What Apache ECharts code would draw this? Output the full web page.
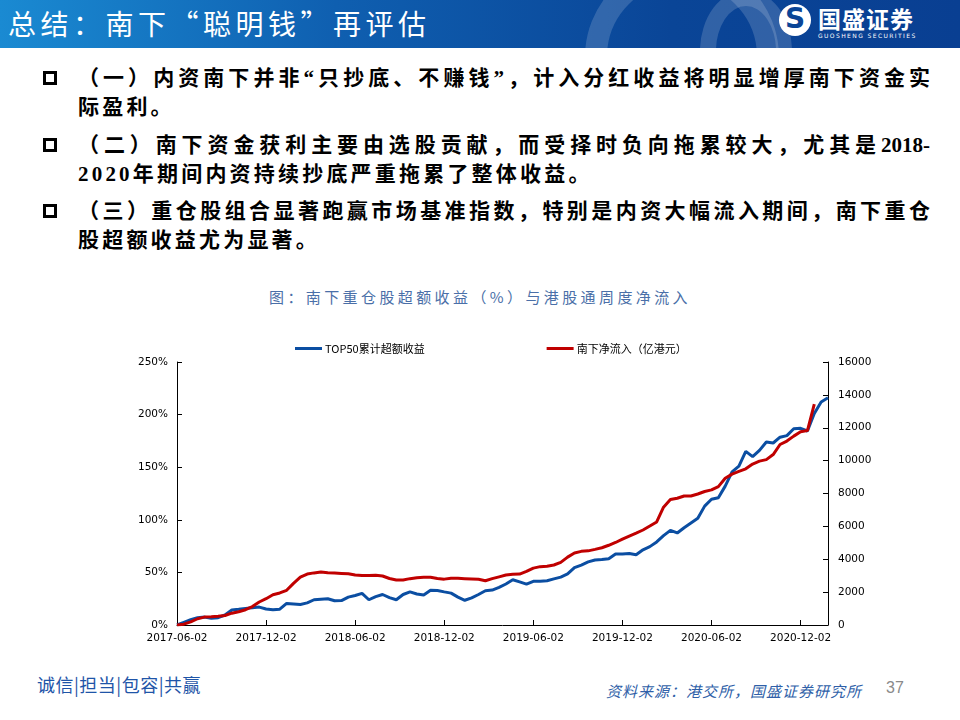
<!DOCTYPE html>
<html>
<head>
<meta charset="utf-8">
<script src="https://cdn.jsdelivr.net/npm/echarts@6/dist/echarts.min.js"></script>
<style>
  html, body { margin: 0; padding: 0; background: #ffffff; }
  body { width: 960px; height: 720px; position: relative; overflow: hidden; font-family: "Noto Sans CJK SC", sans-serif; }
  #header { position: absolute; left: 0; top: 0; width: 960px; height: 48px;
            background: linear-gradient(90deg, #1a8ad2 0%, #0f5fb0 35%, #0a4597 70%, #093f92 100%); overflow: hidden; }
  .deco { position: absolute; border-radius: 50%; border: 22px solid rgba(255,255,255,0.16); }
  #title { position: absolute; left: 8px; top: 4px; color: #ffffff; font-size: 28px; line-height: 38px; letter-spacing: 4.5px; white-space: nowrap; }
  .fw { font-feature-settings: "fwid"; }
  #logoCircle { position: absolute; left: 779px; top: 4px; width: 32px; height: 32px; border-radius: 50%; background: #ffffff; }
  #logoS { position: absolute; left: 779px; top: 2px; width: 32px; text-align: center; color: #0a4597; font-weight: 900; font-size: 28px; line-height: 34px; font-family: "DejaVu Sans", sans-serif; }
  #logoText { position: absolute; left: 818px; top: 3px; color: #ffffff; font-weight: 700; font-size: 23px; line-height: 30px; letter-spacing: 1px; white-space: nowrap; }
  #logoSub { position: absolute; left: 818px; top: 32px; color: #ffffff; font-size: 6px; line-height: 8px; letter-spacing: 1.4px; white-space: nowrap; font-family: "DejaVu Sans", sans-serif; }
  .bullet { position: absolute; left: 43px; width: 8px; height: 8px; border: 3px solid #000; }
  .line { position: absolute; left: 78px; width: 852px; font-size: 21px; line-height: 29px; font-weight: 700; color: #000;
          font-family: "Liberation Serif", "Noto Sans CJK SC", serif; white-space: nowrap; letter-spacing: 3.2px; }
  .just { text-align: justify; text-align-last: justify; letter-spacing: 0; }
  #ctitle { position: absolute; left: 0; width: 960px; top: 286px; text-align: center; color: #4a6fa8; font-size: 15px; letter-spacing: 3.4px; line-height: 22px; }
  #slogan { position: absolute; left: 37px; top: 672px; color: #1f55a8; font-size: 18px; line-height: 24px; white-space: nowrap; letter-spacing: 0.5px; }
  #source { position: absolute; left: 606px; top: 680px; color: #2f5fa8; font-size: 15px; font-style: italic; line-height: 22px; white-space: nowrap; letter-spacing: 1px; }
  #page { position: absolute; left: 886px; top: 677px; color: #8a8a8a; font-size: 16px; line-height: 22px; font-family: "Liberation Sans", sans-serif; }
  #chart { position: absolute; left: 0; top: 0; width: 960px; height: 720px; }
</style>
</head>
<body>
<div id="header">
  <div class="deco" style="left:585px; top:-40px; width:150px; height:150px;"></div>
  <div class="deco" style="left:700px; top:-10px; width:60px; height:90px; border-width:16px;"></div>
  <div id="title" class="fw">总结：南下“聪明钱”再评估</div>
  <div id="logoCircle"></div>
  <div id="logoS">S</div>
  <div id="logoText">国盛证券</div>
  <div id="logoSub">GUOSHENG SECURITIES</div>
</div>

<div class="bullet" style="top:71px;"></div>
<div class="line just" style="top:64px;">（一）内资南下并非<span class="fw">“</span>只抄底、不赚钱<span class="fw">”</span>，计入分红收益将明显增厚南下资金实</div>
<div class="line" style="top:93px;">际盈利。</div>

<div class="bullet" style="top:138px;"></div>
<div class="line just" style="top:131px;">（二）南下资金获利主要由选股贡献，而受择时负向拖累较大，尤其是2018-</div>
<div class="line" style="top:160px;">2020年期间内资持续抄底严重拖累了整体收益。</div>

<div class="bullet" style="top:204px;"></div>
<div class="line just" style="top:197px;">（三）重仓股组合显著跑赢市场基准指数，特别是内资大幅流入期间，南下重仓</div>
<div class="line" style="top:226px;">股超额收益尤为显著。</div>

<div id="ctitle">图：南下重仓股超额收益（%）与港股通周度净流入</div>

<div id="slogan">诚信|担当|包容|共赢</div>
<div id="source">资料来源：港交所，国盛证券研究所</div>
<div id="page">37</div>

<div id="chart"></div>

<script>
// x-axis tick labels (one every 26 weeks)
var tickLabels = ['2017-06-02', '2017-12-02', '2018-06-02', '2018-12-02', '2019-06-02', '2019-12-02', '2020-06-02', '2020-12-02'];

// sampling step of the series below, in weeks from 2017-06-02
var stepWeeks = 2;

// TOP50 cumulative excess return (%), every 2 weeks
var top50Excess = [0, 2.5, 5, 7, 7.5, 6.4, 7, 9.5, 14.3, 15,
  15.8, 16.5, 17, 15.2, 14.5, 15, 20.5, 20, 19.5, 21,
  24, 24.5, 25, 23, 23.2, 26.5, 28, 30, 24, 27,
  29, 26, 24, 29, 31.5, 29.5, 28.5, 33, 32.8, 31.5,
  30.3, 26.5, 23.5, 25.8, 29, 32.6, 33.2, 35.8, 39, 43,
  41, 38.8, 41.5, 41.5, 42, 43.8, 45.5, 48.5, 54.5, 57,
  60, 61.8, 62.2, 63, 67.5, 67.5, 68, 66.8, 71.5, 74.5,
  79, 85, 90, 87.5, 92.5, 97, 101.5, 113, 119.5, 121,
  132, 145.5, 151, 165, 160, 166, 174, 173, 178.5, 180,
  186.5, 187, 184.4, 201, 212, 216];

// Southbound cumulative net inflow (亿港元), every 2 weeks
var southNetInflow = [0, 50, 190, 380, 480, 500, 530, 580, 720, 810,
  930, 1120, 1400, 1600, 1840, 1950, 2110, 2530, 2910, 3100,
  3170, 3230, 3180, 3160, 3140, 3120, 3040, 3010, 3010, 3030,
  2980, 2830, 2740, 2740, 2820, 2880, 2910, 2900, 2830, 2790,
  2850, 2840, 2820, 2800, 2780, 2690, 2820, 2930, 3040, 3090,
  3100, 3260, 3460, 3550, 3580, 3650, 3810, 4130, 4380, 4480,
  4510, 4600, 4700, 4850, 5020, 5220, 5410, 5590, 5780, 6020,
  6270, 7170, 7630, 7710, 7850, 7850, 7970, 8120, 8220, 8420,
  8930, 9180, 9340, 9500, 9790, 9970, 10060, 10370, 10980, 11190,
  11490, 11760, 11830, 13440];

var seriesNames = ['TOP50累计超额收益', '南下净流入（亿港元）'];
var seriesColors = ['#0b4ea2', '#c00000'];

function toPairs(arr) {
  return arr.map(function (v, i) { return [i * stepWeeks, v]; });
}

var chart = echarts.init(document.getElementById('chart'), null, { renderer: 'canvas' });
var axisFont = 'DejaVu Sans';
chart.setOption({
  backgroundColor: 'transparent',
  animation: false,
  legend: {
    data: seriesNames,
    left: 290,
    top: 338,
    icon: 'rect',
    itemWidth: 27,
    itemHeight: 3,
    itemGap: 122,
    textStyle: { fontSize: 11, color: '#000', fontFamily: 'Noto Sans CJK SC', padding: [0, 0, 0, -2] }
  },
  grid: { left: 177, right: 132, top: 362, bottom: 95, containLabel: false },
  xAxis: {
    type: 'value',
    min: 0,
    max: 190,
    interval: 26,
    axisLine: { show: true, lineStyle: { color: '#000', width: 1 } },
    axisTick: { show: true, inside: true, length: 5, lineStyle: { color: '#000' } },
    splitLine: { show: false },
    axisLabel: {
      showMaxLabel: false,
      fontSize: 10.5, color: '#000', fontFamily: axisFont, margin: 8,
      formatter: function (v) { var i = Math.round(v / 26); return (Math.abs(v - i * 26) < 0.01 && tickLabels[i]) ? tickLabels[i] : ''; }
    }
  },
  yAxis: [{
    type: 'value', min: 0, max: 250, interval: 50,
    axisLine: { show: true, lineStyle: { color: '#000', width: 1 } },
    axisTick: { show: true, inside: true, length: 5, lineStyle: { color: '#000' } },
    splitLine: { show: false },
    axisLabel: { formatter: '{value}%', fontSize: 10.5, color: '#000', fontFamily: axisFont, margin: 9 }
  }, {
    type: 'value', min: 0, max: 16000, interval: 2000,
    axisLine: { show: true, lineStyle: { color: '#000', width: 1 } },
    axisTick: { show: true, inside: true, length: 5, lineStyle: { color: '#000' } },
    splitLine: { show: false },
    axisLabel: { formatter: function (v) { return String(v); }, fontSize: 10.5, color: '#000', fontFamily: axisFont, margin: 10 }
  }],
  series: [{
    name: seriesNames[0], type: 'line', yAxisIndex: 0, showSymbol: false, symbol: 'none',
    data: toPairs(top50Excess),
    itemStyle: { color: seriesColors[0] },
    lineStyle: { color: seriesColors[0], width: 3 }
  }, {
    name: seriesNames[1], type: 'line', yAxisIndex: 1, showSymbol: false, symbol: 'none',
    data: toPairs(southNetInflow),
    itemStyle: { color: seriesColors[1] },
    lineStyle: { color: seriesColors[1], width: 3 }
  }]
});
</script>
</body>
</html>
